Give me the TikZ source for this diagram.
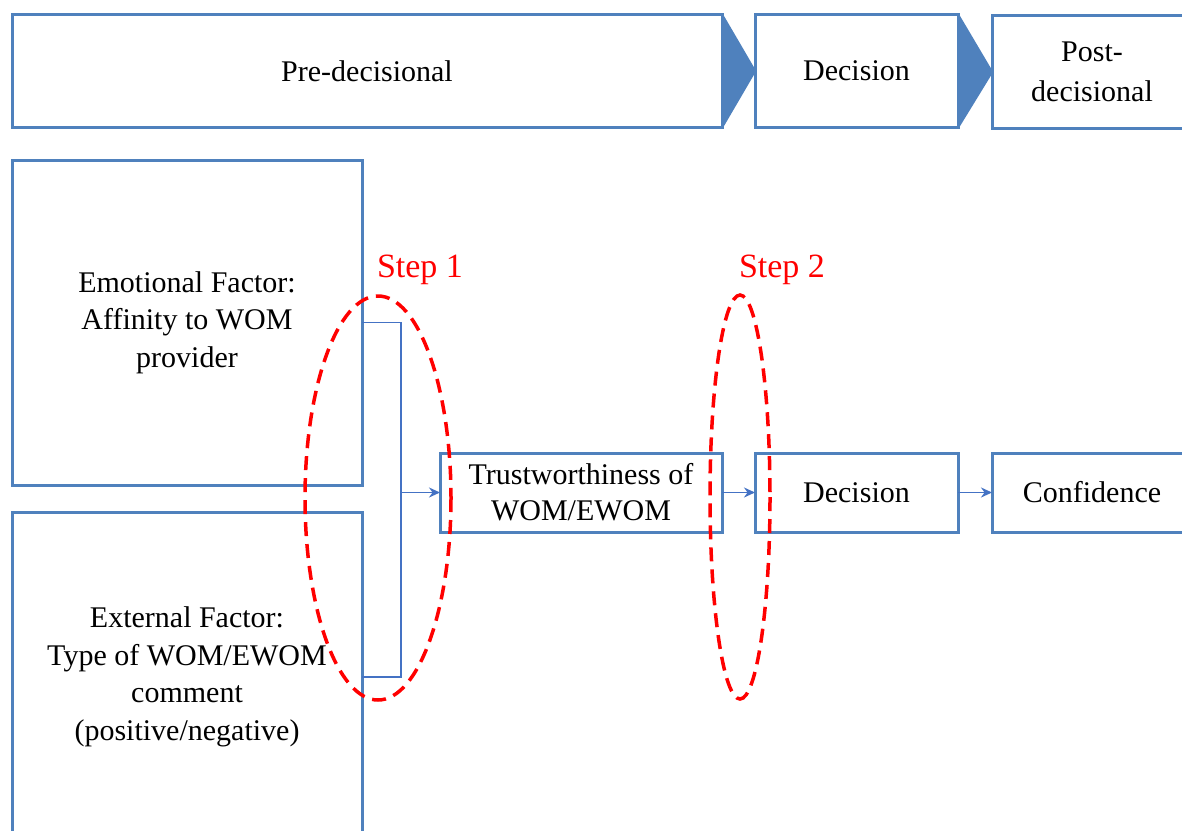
\documentclass[tikz,border=0pt]{standalone}
\usepackage{fontspec}
\setmainfont{Liberation Serif}
\usetikzlibrary{arrows.meta}
\definecolor{boxblue}{RGB}{79,129,189}
\definecolor{linkblue}{RGB}{68,114,196}
\begin{document}
\begin{tikzpicture}[x=1pt,y=-1pt,
    box/.style={draw=boxblue,line width=3pt,fill=white,align=center,inner sep=0pt,outer sep=0pt,font=\fontsize{30}{37.5}\selectfont},
    link/.style={draw=linkblue,line width=1.8pt},
    tip/.style={-{Stealth[length=11pt,width=10pt]}},
    halo/.style={draw=red,line width=3.5pt,dash pattern=on 14pt off 8pt},
    steplabel/.style={text=red,font=\fontsize{34}{40}\selectfont}]
	\clip (0,0) rectangle (1182,830);
	\fill[white] (0,0) rectangle (1182,830);
	\node[box,minimum width=710,minimum height=113] (pre) at (367,71) {Pre-decisional};
	\node[box,minimum width=203,minimum height=113] (dec) at (856.5,71) {Decision};
	\node[box,minimum width=200,minimum height=113,font=\fontsize{30}{40}\selectfont] (post) at (1092,72) {Post-\\decisional};
	\filldraw[boxblue,line width=2pt,line join=round] (pre.north east) -- (dec.west) -- (pre.south east) -- cycle;
	\filldraw[boxblue,line width=2pt,line join=round] (dec.north east) -- (post.west) -- (dec.south east) -- cycle;
	\node[box,minimum width=350,minimum height=325] (emo) at (187,322.5) {Emotional Factor:\\Affinity to WOM\\provider};
	\node[box,minimum width=350,minimum height=330] (ext) at (187,677) {External Factor:\\Type of WOM/EWOM\\comment\\(positive/negative)};
	\node[box,minimum width=282,minimum height=79,font=\fontsize{30}{36}\selectfont] (trust) at (581,492.5) {Trustworthiness of\\WOM/EWOM};
	\node[box,minimum width=203,minimum height=79] (choice) at (856.5,492.5) {Decision};
	\node[box,minimum width=200,minimum height=79] (conf) at (1092,492.5) {Confidence};
	\coordinate (join) at (401,492.5);
	\draw[link] (emo.east) -| (join) |- (ext.east);
	\draw[link,tip] (join) -- (trust.west);
	\draw[link,tip] (trust.east) -- (choice.west);
	\draw[link,tip] (choice.east) -- (conf.west);
	\draw[halo] (378,498) ellipse [x radius=73, y radius=202];
	\draw[halo] (740,497) ellipse [x radius=30, y radius=202];
	\node[steplabel] (step1) at (420,270) {Step 1};
	\node[steplabel] (step2) at (782,270) {Step 2};
\end{tikzpicture}
\end{document}
